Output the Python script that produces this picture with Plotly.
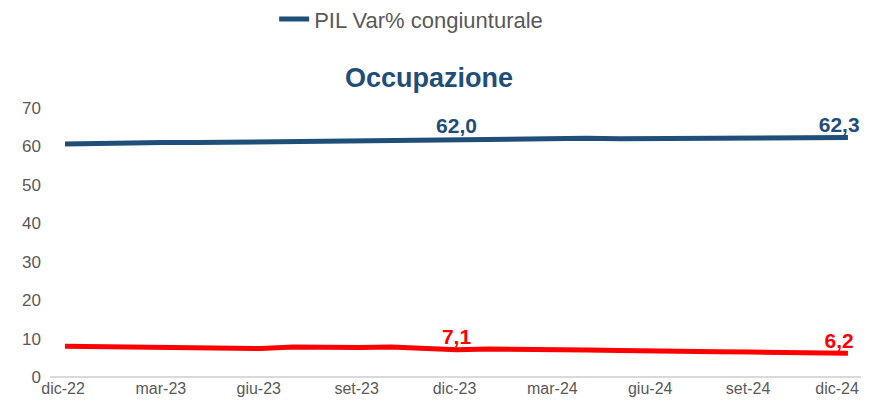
import plotly.graph_objects as go

months = ["dic-22", "gen-23", "feb-23", "mar-23", "apr-23", "mag-23", "giu-23", "lug-23",
          "ago-23", "set-23", "ott-23", "nov-23", "dic-23", "gen-24", "feb-24", "mar-24",
          "apr-24", "mag-24", "giu-24", "lug-24", "ago-24", "set-24", "ott-24", "nov-24", "dic-24"]
occupazione = [60.6, 60.8, 60.9, 61.0, 61.0, 61.1, 61.4, 61.2, 61.3, 61.5, 61.6, 61.7, 62.0,
               61.8, 61.9, 62.0, 62.1, 62.0, 62.0, 62.1, 62.2, 62.2, 62.1, 62.2, 62.3]
disoccupazione = [8.0, 7.9, 7.9, 7.8, 7.9, 7.8, 7.4, 7.8, 7.6, 7.7, 7.8, 7.5, 7.1,
                  7.3, 7.3, 7.3, 7.0, 6.9, 6.9, 6.9, 6.6, 6.5, 6.4, 6.1, 6.2]
tick_labels = ["dic-22", "mar-23", "giu-23", "set-23", "dic-23", "mar-24", "giu-24", "set-24", "dic-24"]
label_months = ["dic-23", "dic-24"]

BLUE = "#1F4E79"
RED = "#FF0000"
GREY = "#595959"
FONT = "Liberation Sans, Arial, sans-serif"
NBSP = "\u00a0"

def labels(values):
    out = []
    for i, (m, v) in enumerate(zip(months, values)):
        if m in label_months:
            pad = NBSP * 3 if i == len(months) - 1 else ""  # keep last label inside the edge
            out.append("<b>" + f"{v:.1f}".replace(".", ",") + "</b>" + pad)
        else:
            out.append("")
    return out

tick_text = [t + (NBSP * 4 if i == len(tick_labels) - 1 else "") for i, t in enumerate(tick_labels)]

fig = go.Figure()
fig.add_trace(go.Scatter(
    x=months, y=occupazione, name="PIL Var% congiunturale", mode="lines+text",
    line=dict(color=BLUE, width=5), text=labels(occupazione), textposition="top center",
    textfont=dict(color=BLUE, size=21, family=FONT),
    cliponaxis=False))
fig.add_trace(go.Scatter(
    x=months, y=disoccupazione, name="Disoccupazione", mode="lines+text", showlegend=False,
    line=dict(color=RED, width=5), text=labels(disoccupazione), textposition="top center",
    textfont=dict(color=RED, size=21, family=FONT),
    cliponaxis=False))

fig.update_layout(
    width=853, height=397,
    margin=dict(l=42, r=0, t=100, b=28, autoexpand=False),
    paper_bgcolor="white", plot_bgcolor="white",
    font=dict(family=FONT, color=GREY),
    title=dict(text="<b>Occupazione</b>", xref="container", yref="container",
               x=0.4936, xanchor="center", y=0.824, yanchor="middle",
               font=dict(size=27, color=BLUE)),
    legend=dict(orientation="h", xref="container", yref="container",
                x=0.312, xanchor="left", y=0.972, yanchor="middle",
                font=dict(size=22, color=GREY)),
    xaxis=dict(type="category", categoryorder="array", categoryarray=months,
               tickmode="array", tickvals=tick_labels, ticktext=tick_text,
               range=[-0.46, 24.4], showgrid=False, showline=False, zeroline=False,
               ticks="", ticklabelshift=-2, tickfont=dict(size=16, color=GREY)),
    yaxis=dict(range=[0, 70], dtick=10, showgrid=False, zeroline=True,
               zerolinecolor="#D9D9D9", zerolinewidth=1.5, showline=False,
               ticks="", ticklabelstandoff=8, tickfont=dict(size=17, color=GREY)),
)

fig.write_html("out.html")
